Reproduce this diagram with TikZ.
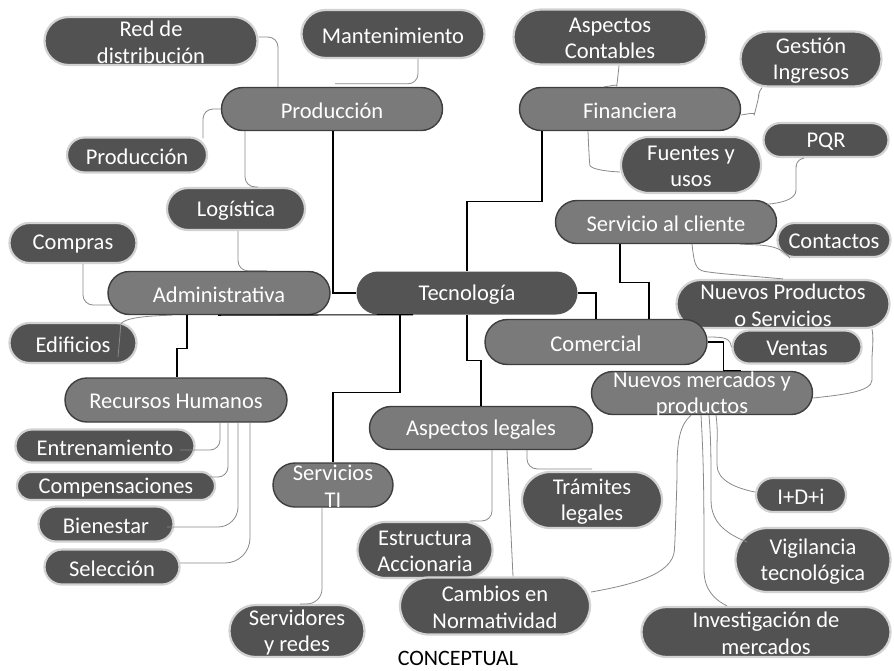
\documentclass[tikz,border=0pt]{standalone}
\usepackage{fontspec}
\setmainfont{Carlito}
\usetikzlibrary{calc}
\definecolor{dkfill}{HTML}{525252}
\definecolor{dkedge}{HTML}{D2D2D2}
\definecolor{catfill}{HTML}{7A7A7A}
\definecolor{catedge}{HTML}{3E3E3E}
\definecolor{tecfill}{HTML}{545454}
\definecolor{curvecol}{HTML}{8A8A8A}
\begin{document}
\begin{tikzpicture}[x=1pt,y=-1pt,
  pill/.style 2 args={rectangle, minimum width=#1pt, minimum height=#2pt, inner sep=0pt, rounded corners=#2pt/2-0.01pt},
  dk/.style={fill=dkfill, draw=dkedge, line width=2.2pt},
  cat/.style={fill=catfill, draw=catedge, line width=1.4pt},
  tecs/.style={fill=tecfill, draw=none},
  lt/.style={text=white, font=\fontsize{22.5}{26.5}\selectfont, align=center, inner sep=0pt, yshift=-1.5pt},
  tree/.style={draw=black, line width=1.1pt},
  cv/.style={draw=curvecol, line width=0.8pt, rounded corners=10pt},
]
\useasboundingbox (0,0) rectangle (894,670);
\fill[white] (0,0) rectangle (894,670);

% ---- nodes ----
\node[dk,pill={213}{48},label={[lt]center:{Red de\\distribución}}] (redd) at (151,41) {};
\node[dk,pill={183}{48},label={[lt]center:{Mantenimiento}}] (mant) at (393,34) {};
\node[cat,pill={221}{43},label={[lt]center:{Producción}}] (prodc) at (332,109) {};
\node[dk,pill={140}{35},label={[lt]center:{Producción}}] (prods) at (137,155) {};
\node[dk,pill={138}{42},label={[lt]center:{Logística}}] (logi) at (236,209) {};
\node[dk,pill={127}{40},label={[lt]center:{Compras}}] (comp) at (73,243) {};
\node[cat,pill={222}{43},label={[lt]center:{Administrativa}}] (admin) at (219,293) {};
\node[dk,pill={127}{40},label={[lt]center:{Edificios}}] (edif) at (73,343) {};
\node[tecs,pill={221}{43},label={[lt]center:{Tecnología}}] (tec) at (467,293) {};
\node[dk,pill={193}{55},label={[lt]center:{Aspectos\\Contables}}] (acont) at (610,37) {};
\node[dk,pill={141}{55},label={[lt]center:{Gestión\\Ingresos}}] (gest) at (811,59) {};
\node[cat,pill={221}{43},label={[lt]center:{Financiera}}] (fin) at (630,109) {};
\node[dk,pill={140}{56},label={[lt]center:{Fuentes y\\usos}}] (fuen) at (691,165) {};
\node[dk,pill={125}{34},label={[lt]center:{PQR}}] (pqr) at (826,140) {};
\node[cat,pill={221}{43},label={[lt]center:{Servicio al cliente}}] (serv) at (666,222) {};
\node[dk,pill={113}{34},label={[lt]center:{Contactos}}] (cont) at (834,240) {};
\node[dk,pill={213}{48},label={[lt]center:{Nuevos Productos\\o Servicios}}] (nps) at (783,304) {};
\node[cat,pill={222}{45},label={[lt]center:{Comercial}}] (comer) at (596,342) {};
\node[dk,pill={129}{33},label={[lt]center:{Ventas}}] (vent) at (797,347) {};
\node[cat,pill={221}{43},label={[lt]center:{Nuevos mercados y\\productos}}] (nmp) at (702,393) {};
\node[cat,pill={222}{44},label={[lt]center:{Recursos Humanos}}] (rh) at (176,400) {};
\node[dk,pill={179}{33},label={[lt]center:{Entrenamiento}}] (entr) at (105,446) {};
\node[dk,pill={198}{28},label={[lt]center:{Compensaciones}}] (compe) at (116,486) {};
\node[dk,pill={135}{35},label={[lt]center:{Bienestar}}] (bien) at (106,524) {};
\node[dk,pill={135}{35},label={[lt]center:{Selección}}] (sele) at (112,567) {};
\node[cat,pill={120}{44},label={[lt]center:{Servicios\\TI}}] (sti) at (333,485) {};
\node[dk,pill={135}{52},label={[lt]center:{Servidores\\y redes}}] (sred) at (297,631) {};
\node[cat,pill={223}{43},label={[lt]center:{Aspectos legales}}] (aleg) at (481,428) {};
\node[dk,pill={140}{56},label={[lt]center:{Trámites\\legales}}] (tram) at (592,500) {};
\node[dk,pill={135}{56},label={[lt]center:{Estructura\\Accionaria}}] (estr) at (425,550) {};
\node[dk,pill={190}{57},label={[lt]center:{Cambios en\\Normatividad}}] (camb) at (495,606) {};
\node[dk,pill={90}{34},label={[lt]center:{I+D+i}}] (idi) at (801,495) {};
\node[dk,pill={155}{64},label={[lt]center:{Vigilancia\\tecnológica}}] (vigi) at (813,560) {};
\node[dk,pill={249}{50},label={[lt]center:{Investigación de\\mercados}}] (inv) at (766,632) {};
\node[font=\fontsize{22}{26.5}\selectfont, anchor=base, inner sep=0pt] (concept) at (458,665) {CONCEPTUAL};

% ---- main tree (black) ----
\draw[tree] ([xshift=1pt]prodc.south) |- (tec.west);
\draw[tree] ([xshift=-88pt]fin.south) -- ++(0,70) -| (tec.north);
\draw[tree] (tec.east) -| (comer.north);
\draw[tree] ([xshift=-46pt]serv.south) -- ++(0,38.5) -| ([xshift=53pt]comer.north);
\draw[tree] (comer.east) -- ++(16,0) |- ([xshift=39pt]nmp.north);
\draw[tree] ([xshift=-1pt]admin.south) -- ([xshift=-54pt]tec.south);
\draw[tree] ([xshift=-32pt]admin.south) -- ++(0,33) -| ([xshift=1pt]rh.north);
\draw[tree] ([xshift=-67pt]tec.south) -- ++(0,77.5) -| (sti.north);
\draw[tree] (tec.south) -- ++(0,46) -| (aleg.north);

% ---- sub connectors (gray curves) ----
\draw[cv] ([yshift=4pt]redd.east) -| ([xshift=-54pt]prodc.north);
\draw[cv] ([xshift=25pt]mant.south) |- ([xshift=3pt,yshift=3pt]prodc.north);
\draw[cv] (prodc.west) -| ([xshift=66pt,yshift=-2pt]prods.north);
\draw[cv] ([xshift=-87pt]prodc.south) |- ([xshift=22pt]logi.north);
\draw[cv] ([xshift=2pt]logi.south) |- ([xshift=48pt]admin.north);
\draw[cv] ([xshift=10pt]comp.south) |- ([xshift=4pt,yshift=-12pt]admin.west);
\draw[cv] ([xshift=-47pt]admin.south) .. controls (135,316) and (121,320) .. (120,335) -- ([xshift=45pt,yshift=-14pt]edif.center);
\draw[cv] ([xshift=44pt]rh.south) |- ([xshift=75pt,yshift=-4pt]entr.center);
\draw[cv] ([xshift=52pt]rh.south) |- ([xshift=94pt,yshift=9pt]compe.center);
\draw[cv,rounded corners=20pt] ([xshift=62pt]rh.south) |- ([xshift=61pt,yshift=-3pt]bien.center);
\draw[cv,rounded corners=25pt] ([xshift=74pt]rh.south) |- ([xshift=68pt,yshift=4pt]sele.center);
\draw[cv,rounded corners=15pt] ([xshift=-11pt]sti.south) |- ([xshift=3pt]sred.north);
\draw[cv] ([xshift=11pt]aleg.south) |- ([xshift=45pt]estr.north);
\draw[cv] ([xshift=26pt]aleg.south) -- ([xshift=18pt]camb.north);
\draw[cv] ([xshift=46pt]aleg.south) |- ([yshift=2pt]tram.north);
\draw[cv] ([xshift=-11pt]nmp.south) .. controls (680,425) and (677,440) .. (677,480) -- (675,540) .. controls (673,575) and (630,585) .. ([yshift=14pt]camb.east);
\draw[cv] ([xshift=-1pt]nmp.south) .. controls (703,450) and (704,480) .. (704,560) .. controls (704,590) and (715,600) .. ([xshift=-39pt]inv.north);
\draw[cv] ([xshift=7pt]nmp.south) .. controls (711,440) and (711,460) .. (711,490) .. controls (711,525) and (730,535) .. ([xshift=-66pt,yshift=18pt]vigi.center);
\draw[cv] ([xshift=14pt]nmp.south) .. controls (718,430) and (717,440) .. (717,455) .. controls (717,480) and (735,488) .. ([yshift=3pt]idi.west);
\draw[cv] ([xshift=89pt]nps.south) .. controls (874,340) and (872,350) .. (872,370) .. controls (872,392) and (840,395) .. ([yshift=-5pt]nmp.east);
\draw[cv] ([yshift=5pt]comer.east) .. controls (725,337) and (730,338) .. (vent.west);
\draw[cv] ([xshift=26pt]serv.south) .. controls (694,262) and (695,270) .. (715,273) -- (nps.north);
\draw[cv] ([xshift=74pt]serv.south) .. controls (765,245) and (780,245) .. ([xshift=-44pt]cont.south);
\draw[cv] ([xshift=-22pt]pqr.south) .. controls (796,160) and (796,165) .. (796,180) .. controls (796,200) and (780,203) .. ([xshift=101pt,yshift=-4.5pt]serv.north);
\draw[cv] ([xshift=-42pt]fin.south) -- (589,155) .. controls (590,168) and (600,171) .. ([yshift=-7pt]fuen.west);
\draw[cv] ([xshift=9pt]acont.south) -- (618,76) .. controls (617,84) and (612,86) .. ([xshift=-26pt]fin.north);
\draw[cv] ([xshift=-49pt]gest.south) .. controls (758,92) and (758,100) .. (757,105) .. controls (755,112) and (748,114) .. ([yshift=-6pt]fin.east);
\end{tikzpicture}
\end{document}
